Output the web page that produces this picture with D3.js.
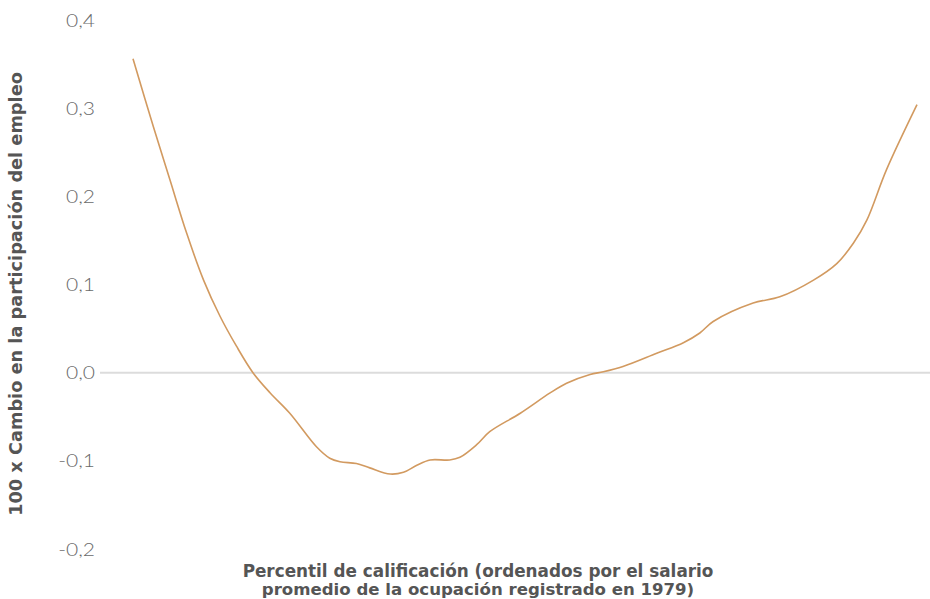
<!DOCTYPE html>
<html>
<head>
<meta charset="utf-8">
<script src="https://cdn.jsdelivr.net/npm/d3@7"></script>
<style>
  html, body { margin: 0; padding: 0; background: #fff; }
  svg { display: block; }
</style>
</head>
<body>
<svg id="chart" width="930" height="599"></svg>
<script>
const percentiles = [0, 2.6, 4.7, 6.85, 9.0, 11.1, 13.2, 15.3, 17.5, 20.0, 23.4, 25.1, 26.4, 28.5, 30.2, 32.8, 34.5, 36.2, 37.9, 40.4, 41.7, 43.8, 45.5, 49.4, 53.2, 55.3, 58.3, 60.0, 62.5, 66.8, 70.2, 72.3, 74.0, 79.1, 82.5, 86.8, 89.8, 91.9, 93.6, 96.1, 100];
const changes = [0.356, 0.279, 0.219, 0.158, 0.105, 0.064, 0.030, 0.000, -0.023, -0.046, -0.084, -0.097, -0.101, -0.103, -0.108, -0.115, -0.113, -0.105, -0.099, -0.099, -0.096, -0.082, -0.067, -0.046, -0.023, -0.012, -0.002, 0.001, 0.007, 0.022, 0.034, 0.045, 0.058, 0.079, 0.086, 0.105, 0.124, 0.147, 0.173, 0.230, 0.304];
const yTicks = [-0.2, -0.1, 0.0, 0.1, 0.2, 0.3, 0.4];
const xTitle = ["Percentil de calificación (ordenados por el salario", "promedio de la ocupación registrado en 1979)"];
const yTitle = "100 x Cambio en la participación del empleo";

const svg = d3.select("#chart");
const x = d3.scaleLinear().domain([0, 100]).range([133, 917]);
const y = d3.scaleLinear().domain([-0.2, 0.4]).range([549, 20]);

const fmt = d => d3.format(".1f")(d).replace(".", ",").replace("−", "-");

// fit a text element's font size so that it spans a target width
function fit(sel, target) {
  const fs = +sel.attr("font-size");
  const w = sel.node().getComputedTextLength();
  if (w > 0) sel.attr("font-size", fs * target / w);
}

// zero gridline
svg.append("line")
  .attr("x1", 100).attr("x2", 930)
  .attr("y1", y(0)).attr("y2", y(0))
  .attr("stroke", "#dcdcdc").attr("stroke-width", 2);

// y axis labels
const yAxis = d3.axisLeft(y).tickValues(yTicks).tickFormat(fmt).tickSize(0).tickPadding(0);
const gy = svg.append("g").attr("transform", "translate(95,0)").call(yAxis);
gy.select(".domain").remove();
gy.selectAll("text")
  .attr("font-family", "Lato, 'Open Sans', sans-serif")
  .attr("font-weight", 300)
  .attr("font-size", 18)
  .attr("fill", "#6a6a6a");
// widen labels to match the reference's wide geometric face
gy.selectAll("text").each(function(d) {
  if (d === 0.4) {
    const s = d3.select(this);
    const w = this.getComputedTextLength();
    const k = 29 / w;
    gy.selectAll("text").attr("font-size", 18).attr("transform", `scale(${Math.min(k, 1.35)},1)`);
  }
});
gy.selectAll(".tick").each(function() {
  const t = d3.select(this).select("text");
  const tr = t.attr("transform");
  t.attr("transform", tr).attr("dy", "0.34em");
});

// line
const data = percentiles.map((p, i) => ({p, v: changes[i]}));
const line = d3.line().x(d => x(d.p)).y(d => y(d.v)).curve(d3.curveCatmullRom.alpha(0.5));
svg.append("path").datum(data)
  .attr("d", line)
  .attr("fill", "none")
  .attr("stroke", "#d29a60")
  .attr("stroke-width", 1.6);

// x title
const xtTargets = [471, 433];
xTitle.forEach((t, i) => {
  const s = svg.append("text")
    .attr("text-anchor", "middle")
    .attr("font-family", "'DejaVu Sans', sans-serif")
    .attr("font-weight", 700)
    .attr("font-size", 15)
    .attr("fill", "#555")
    .attr("x", 478).attr("y", 577 + i * 18)
    .text(t);
  fit(s, xtTargets[i]);
});

// y title
const yt = svg.append("text")
  .attr("transform", "translate(22,294) rotate(-90)")
  .attr("text-anchor", "middle")
  .attr("font-family", "'DejaVu Sans', sans-serif")
  .attr("font-weight", 700)
  .attr("font-size", 15)
  .attr("fill", "#555")
  .text(yTitle);
fit(yt, 444);
</script>
</body>
</html>
